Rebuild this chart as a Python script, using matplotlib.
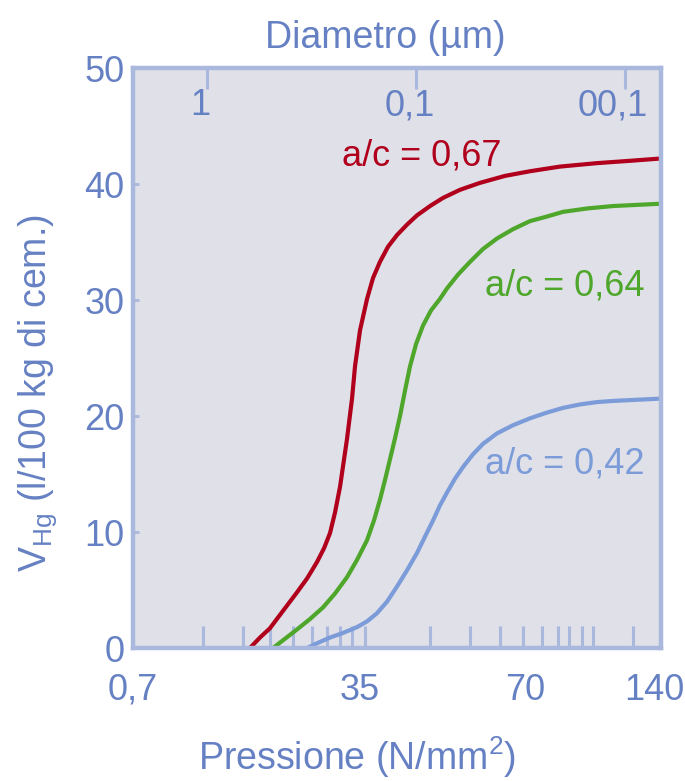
import matplotlib
matplotlib.use("Agg")
import matplotlib.pyplot as plt
import matplotlib.font_manager as fm
from matplotlib.ticker import FixedLocator, NullFormatter, FixedFormatter
import matplotlib.transforms as mtransforms

# ---------------- data (x = pore diameter in µm, y = V_Hg in l/100 kg cem.) -------------
red_d = [0.623, 0.558, 0.500, 0.433, 0.371, 0.332, 0.298, 0.2755, 0.258, 0.244, 0.231,
         0.214, 0.2024, 0.1958, 0.1853, 0.1715, 0.1606, 0.1487, 0.1361, 0.1233, 0.1104,
         0.0989, 0.0857, 0.0743, 0.0616, 0.0494, 0.0375, 0.0285, 0.0205, 0.0136,
         0.00946, 0.00673]
red_v = [0.0, 0.9, 1.7, 3.2, 4.8, 6.0, 7.4, 8.6, 9.9, 11.7, 13.9,
         18.0, 21.5, 24.3, 27.4, 30.1, 31.9, 33.3, 34.6, 35.6, 36.5,
         37.3, 38.1, 38.8, 39.5, 40.1, 40.7, 41.1, 41.5, 41.8,
         42.0, 42.2]

green_d = [0.483, 0.4234, 0.371, 0.3215, 0.2786, 0.244, 0.214, 0.1915, 0.1715, 0.1589,
           0.1487, 0.1407, 0.1331, 0.1260, 0.1193, 0.1129, 0.1068, 0.1000, 0.0926,
           0.0848, 0.0768, 0.0711, 0.0629, 0.0551, 0.0478, 0.0410, 0.0344, 0.0285,
           0.0236, 0.0198, 0.01503, 0.01141, 0.00673]
green_v = [0.0, 0.8, 1.6, 2.5, 3.5, 4.7, 6.1, 7.6, 9.3, 11.0,
           12.8, 14.5, 16.3, 18.1, 20.0, 22.2, 24.3, 26.2, 27.8,
           29.1, 30.1, 31.0, 32.2, 33.3, 34.4, 35.3, 36.1, 36.8,
           37.2, 37.6, 37.9, 38.1, 38.3]

blue_d = [0.332, 0.2944, 0.258, 0.2235, 0.1915, 0.1715, 0.1537, 0.1376, 0.1233, 0.1104,
          0.0989, 0.0906, 0.0829, 0.0768, 0.0711, 0.0651, 0.0596, 0.0534, 0.0478,
          0.0410, 0.0344, 0.0285, 0.0236, 0.0198, 0.0164, 0.0136, 0.01141, 0.00876,
          0.00673]
blue_v = [0.0, 0.45, 0.9, 1.3, 1.8, 2.3, 3.0, 4.0, 5.3, 6.7,
          8.2, 9.6, 11.0, 12.3, 13.4, 14.6, 15.6, 16.7, 17.6,
          18.5, 19.2, 19.8, 20.3, 20.7, 21.0, 21.2, 21.3, 21.4,
          21.5]

series_labels = ["a/c = 0,67", "a/c = 0,64", "a/c = 0,42"]

y_ticks = [0, 10, 20, 30, 40, 50]
y_ticklabels = ["0", "10", "20", "30", "40", "50"]

pressure_labels = ["0,7", "35", "70", "140"]
pressure_label_pos = [2.26, 0.185, 0.0301, 0.0072]

diam_ticks = [1, 0.1, 0.01]
diam_labels = ["1", "0,1", "00,1"]
diam_label_pos = [1.08, 0.1068, 0.0115]

minor_ticks = [1.045, 0.673, 0.4995, 0.3878, 0.3145, 0.2666, 0.2310, 0.2024, 0.1754,
               0.0857, 0.0551, 0.0396, 0.0308, 0.0249, 0.0209, 0.01853, 0.01606,
               0.01422, 0.00916]

# ---------------- style -------------
names = {f.name for f in fm.fontManager.ttflist}
FAM = "Liberation Sans Narrow" if "Liberation Sans Narrow" in names else "Liberation Sans"
plt.rcParams["font.family"] = [FAM, "DejaVu Sans"]
plt.rcParams["mathtext.fontset"] = "custom"
plt.rcParams["mathtext.rm"] = FAM
plt.rcParams["mathtext.it"] = FAM
plt.rcParams["mathtext.bf"] = FAM

TXT = "#6681c3"
SPINE = "#a9b8dc"
BG = "#dfe0e8"
RED = "#b0001c"
GREEN = "#4ea62a"
BLUE = "#7b9bd9"

W, H = 685, 781
fig = plt.figure(figsize=(W / 100, H / 100), dpi=100)
ax = fig.add_axes([133 / W, 1 - 648 / H, 528 / W, 580 / H])
ax.set_facecolor(BG)

for xs, ys, c in ((red_d, red_v, RED), (green_d, green_v, GREEN), (blue_d, blue_v, BLUE)):
    ax.plot(xs, ys, color=c, lw=3.0, solid_capstyle="butt", solid_joinstyle="round")

ax.set_xscale("log")
ax.set_xlim(2.26, 0.00673)
ax.set_ylim(0, 50)

for s in ax.spines.values():
    s.set_color(SPINE)
    s.set_linewidth(3.2)

# y axis
ax.yaxis.set_major_locator(FixedLocator(y_ticks))
ax.yaxis.set_major_formatter(FixedFormatter(y_ticklabels))
ax.yaxis.set_minor_locator(FixedLocator([]))
ax.tick_params(axis="y", direction="in", length=4, width=2, color=SPINE,
               labelcolor=TXT, labelsize=26, pad=6)

# bottom axis
ax.xaxis.set_major_locator(FixedLocator(pressure_label_pos))
ax.xaxis.set_major_formatter(FixedFormatter(pressure_labels))
ax.xaxis.set_minor_locator(FixedLocator(minor_ticks))
ax.xaxis.set_minor_formatter(NullFormatter())
ax.tick_params(axis="x", which="major", length=0, labelcolor=TXT, labelsize=26, pad=18)
ax.tick_params(axis="x", which="minor", direction="in", length=16, width=2.2, color=SPINE)

# top axis (diameter)
ax2 = ax.twiny()
ax2.set_xscale("log")
ax2.set_xlim(ax.get_xlim())
ax2.xaxis.set_major_locator(FixedLocator(diam_ticks))
ax2.xaxis.set_minor_locator(FixedLocator([]))
ax2.xaxis.set_major_formatter(NullFormatter())
ax2.tick_params(axis="x", which="major", direction="in", length=15, width=2.2, color=SPINE)
for s in ax2.spines.values():
    s.set_visible(False)

trans = mtransforms.blended_transform_factory(ax.transData, ax.transAxes)
for lab, pos in zip(diam_labels, diam_label_pos):
    ax.text(pos, 0.935, lab, transform=trans, ha="center", va="center",
            color=TXT, fontsize=26)

# curve labels
ax.text(0.225, 42.4, series_labels[0], color=RED, fontsize=26, ha="left", va="center")
ax.text(0.047, 31.2, series_labels[1], color=GREEN, fontsize=26, ha="left", va="center")
ax.text(0.047, 15.9, series_labels[2], color=BLUE, fontsize=26, ha="left", va="center")

# axis titles
fig.text(385 / W, 1 - 38 / H, "Diametro (µm)", color=TXT, fontsize=27,
         ha="center", va="center")
fig.text(357 / W, 1 - 757 / H, r"Pressione (N/mm$^{2}$)", color=TXT, fontsize=27,
         ha="center", va="center")
fig.text(38 / W, 1 - 393 / H, r"V$_{\mathrm{Hg}}$ (l/100 kg di cem.)", color=TXT,
         fontsize=27, ha="center", va="center", rotation=90)

fig.savefig("out.png", dpi=100, facecolor="white")
